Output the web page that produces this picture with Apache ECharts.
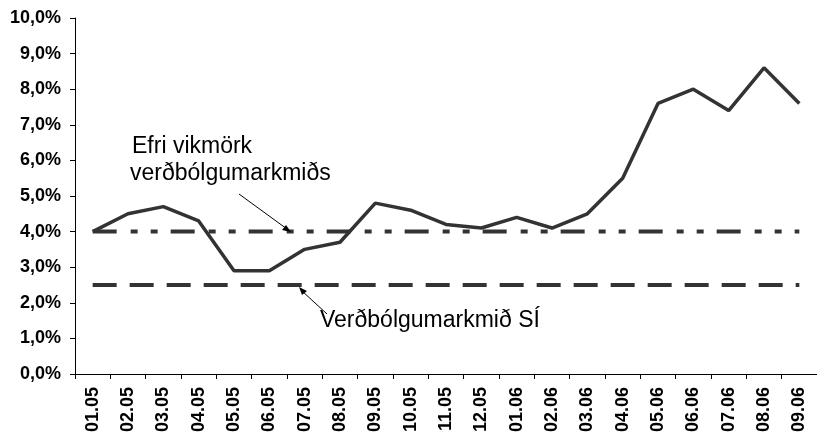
<!DOCTYPE html>
<html>
<head>
<meta charset="utf-8">
<script src="https://cdn.jsdelivr.net/npm/echarts@6/dist/echarts.min.js"></script>
<style>
  html, body { margin: 0; padding: 0; background: #fff; }
  #chart { width: 817px; height: 435px; }
</style>
</head>
<body>
<div id="chart"></div>
<script>
// mánuðir
var months = ["01.05", "02.05", "03.05", "04.05", "05.05", "06.05", "07.05", "08.05", "09.05", "10.05",
  "11.05", "12.05", "01.06", "02.06", "03.06", "04.06", "05.06", "06.06", "07.06", "08.06", "09.06"];
// verðbólga (%)
var inflation = [4.0, 4.5, 4.7, 4.3, 2.9, 2.9, 3.5, 3.7, 4.8, 4.6, 4.2, 4.1, 4.4, 4.1, 4.5, 5.5, 7.6, 8.0, 7.4, 8.6, 7.6];
// efri vikmörk og markmið
var upperBound = [4, 4, 4, 4, 4, 4, 4, 4, 4, 4, 4, 4, 4, 4, 4, 4, 4, 4, 4, 4, 4];
var target = [2.5, 2.5, 2.5, 2.5, 2.5, 2.5, 2.5, 2.5, 2.5, 2.5, 2.5, 2.5, 2.5, 2.5, 2.5, 2.5, 2.5, 2.5, 2.5, 2.5, 2.5];
var yTicks = { min: 0, max: 10, interval: 1 };

(function () {
  var myChart = echarts.init(document.getElementById("chart"));
  var font = "Liberation Sans, Arial, sans-serif";

  var option = {
    animation: false,
    grid: { left: 75, top: 18, right: -8, bottom: 60 },
    xAxis: {
      type: "category",
      data: months,
      boundaryGap: true,
      axisLine: { lineStyle: { color: "#000", width: 1 } },
      axisTick: { show: true, length: 5, lineStyle: { color: "#000" } },
      axisLabel: {
        rotate: 90,
        interval: 0,
        margin: 13,
        color: "#000",
        fontWeight: "bold",
        fontSize: 18,
        fontFamily: font
      },
      splitLine: { show: false }
    },
    yAxis: {
      type: "value",
      min: yTicks.min,
      max: yTicks.max,
      interval: yTicks.interval,
      axisLine: { show: true, lineStyle: { color: "#000", width: 1 } },
      axisTick: { show: true, length: 5, lineStyle: { color: "#000" } },
      axisLabel: {
        margin: 14,
        color: "#000",
        fontWeight: "bold",
        fontSize: 18,
        fontFamily: font,
        formatter: function (v) {
          return v.toFixed(1).replace(".", ",") + "%";
        }
      },
      splitLine: { show: false }
    },
    series: [
      {
        name: "Efri vikmörk",
        type: "line",
        data: upperBound,
        symbol: "none",
        lineStyle: { color: "#333", width: 4, type: [24, 14, 7, 13, 7, 13], cap: "butt" },
        z: 2
      },
      {
        name: "Verðbólgumarkmið",
        type: "line",
        data: target,
        symbol: "none",
        lineStyle: { color: "#333", width: 4, type: [24, 13], cap: "butt" },
        z: 2
      },
      {
        name: "Verðbólga",
        type: "line",
        data: inflation,
        symbol: "none",
        lineStyle: { color: "#333", width: 3.5 },
        z: 3
      }
    ],
    graphic: [
      {
        type: "text", x: 132, y: 147,
        style: { text: "Efri vikmörk", font: "23px " + font, fill: "#000", verticalAlign: "middle" }
      },
      {
        type: "text", x: 130, y: 174,
        style: { text: "verðbólgumarkmiðs", font: "23px " + font, fill: "#000", verticalAlign: "middle" }
      },
      {
        type: "text", x: 320, y: 321,
        style: { text: "Verðbólgumarkmið SÍ", font: "23px " + font, fill: "#000", verticalAlign: "middle" }
      },
      {
        type: "line", shape: { x1: 239, y1: 194, x2: 287, y2: 229 },
        style: { stroke: "#000", lineWidth: 1 }, z: 10
      },
      {
        type: "polygon", shape: { points: [[291, 232], [282, 230], [286, 225]] },
        style: { fill: "#000" }, z: 10
      },
      {
        type: "line", shape: { x1: 327, y1: 314, x2: 302, y2: 291 },
        style: { stroke: "#000", lineWidth: 1 }, z: 10
      },
      {
        type: "polygon", shape: { points: [[299, 287], [307, 291], [302, 295]] },
        style: { fill: "#000" }, z: 10
      }
    ]
  };

  myChart.setOption(option);

  window.addEventListener("resize", function () {
    myChart.resize();
  });
})();
</script>
</body>
</html>
